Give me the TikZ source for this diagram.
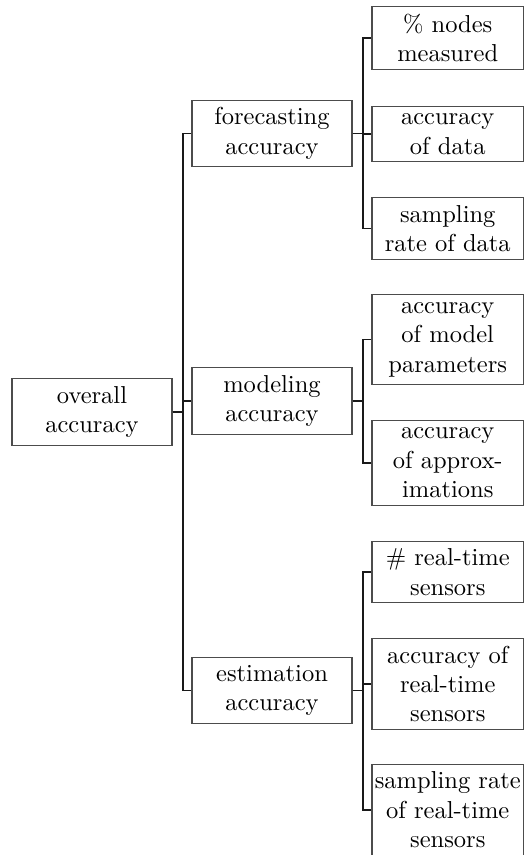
\documentclass[tikz,border=0pt]{standalone}
\usepackage{tikz}
\tikzset{
  box/.style={draw=black!70, line width=0.45pt, inner xsep=0pt, inner ysep=3pt,
    align=center, font=\fontsize{10}{12}\selectfont},
  midbox/.style={box, minimum width=160*0.40816pt},
  leafbox/.style={box, minimum width=151.5*0.40816pt},
  conn/.style={draw=black!90, line width=0.8pt}
}
\begin{document}
\begin{tikzpicture}[x=0.40816pt, y=-0.40816pt]
\useasboundingbox (0,0) rectangle (524,855);
\node[midbox] (root) at (92,412) {overall\\accuracy};
\node[midbox] (fc) at (272,133.5) {forecasting\\accuracy};
\node[midbox] (mo) at (272,401) {modeling\\accuracy};
\node[midbox] (es) at (272,690.5) {estimation\\accuracy};
\node[leafbox] (l1) at (447.75,38) {\% nodes\\measured};
\node[leafbox] (l2) at (447.75,134) {accuracy\\of data};
\node[leafbox] (l3) at (447.75,228.5) {sampling\\rate of data};
\node[leafbox] (m1) at (447.75,339.5) {accuracy\\of model\\parameters};
\node[leafbox] (m2) at (447.75,463) {accuracy\\of approx-\\imations};
\node[leafbox] (e1) at (447.75,572) {\# real-time\\sensors};
\node[leafbox] (e2) at (447.75,684) {accuracy of\\real-time\\sensors};
\node[leafbox] (e3) at (447.75,810) {sampling rate\\of real-time\\sensors};
\foreach \c in {fc,mo,es} \draw[conn] (root.east) -- ++(10,0) |- (\c.west);
\foreach \c in {l1,l2,l3} \draw[conn] (fc.east) -- ++(10,0) |- (\c.west);
\foreach \c in {m1,m2} \draw[conn] (mo.east) -- ++(10,0) |- (\c.west);
\foreach \c in {e1,e2,e3} \draw[conn] (es.east) -- ++(10,0) |- (\c.west);
\end{tikzpicture}
\end{document}
